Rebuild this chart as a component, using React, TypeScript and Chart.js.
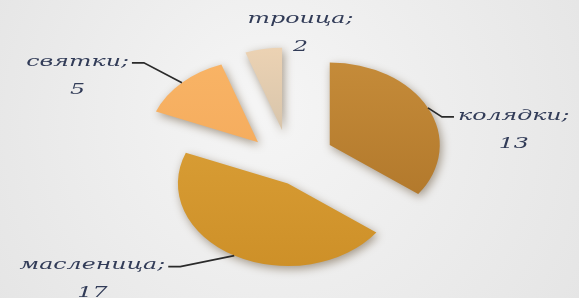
import React, { useEffect, useRef } from "react";
import { Chart, registerables } from "chart.js";

Chart.register(...registerables);

const categories = ["колядки", "масленица", "святки", "троица"];
const values = [13, 17, 5, 2];
// explosion distance of each slice (pixels) and its tilt from the bisector (degrees)
const explode = [35, 34, 49, 44];
const explodeTilt = [-8, -6.5, -17.5, -15.7];
const topColors = ["#c98f3c", "#dea43c", "#fab668", "#f3d7b6"];
const bottomColors = ["#aa7126", "#cb8d25", "#f0a455", "#bdb3a0"];

// label layout (offset of the label anchor from the slice's outer edge point)
const labelDx = [26, -66, -50, 37];
const labelDy = [9, 11, -20, -29];
const labelAlign: CanvasTextAlign[] = ["left", "right", "right", "center"];
const labelLeader = [true, true, true, false];

const Y_SCALE = 0.75;
const TEXT_STRETCH = 1.58;
const FONT = "italic 15px 'DejaVu Serif'";

function explodeVec(arc: any, i: number) {
  const h = (arc.startAngle + arc.endAngle) / 2 + (explodeTilt[i] * Math.PI) / 180;
  return { dx: Math.cos(h) * explode[i], dy: Math.sin(h) * explode[i] };
}

function slicePos(chart: any, i: number) {
  const arc: any = chart.getDatasetMeta(0).data[i];
  const { x, y, startAngle, endAngle, outerRadius } = arc.getProps(
    ["x", "y", "startAngle", "endAngle", "outerRadius"],
    true
  );
  const h = (startAngle + endAngle) / 2;
  const { dx, dy } = explodeVec(arc, i);
  const ex = x + dx + Math.cos(h) * outerRadius;
  const eyRaw = y + dy + Math.sin(h) * outerRadius;
  const ey = y + (eyRaw - y) * Y_SCALE;
  return { ex, ey };
}

const bgPlugin = {
  id: "bg",
  beforeDraw(chart: any) {
    const { ctx, width, height } = chart;
    ctx.save();
    const g = ctx.createRadialGradient(width * 0.45, height * 0.35, 10, width * 0.5, height * 0.45, width * 0.62);
    g.addColorStop(0, "#f5f5f5");
    g.addColorStop(1, "#e4e4e4");
    ctx.fillStyle = g;
    ctx.fillRect(0, 0, width, height);
    ctx.restore();
  },
};

const pieDrawPlugin = {
  id: "explodedPie",
  beforeDatasetsDraw(chart: any) {
    const meta = chart.getDatasetMeta(0);
    const arc0: any = meta.data[0];
    const ctx = chart.ctx;
    ctx.save();
    ctx.translate(arc0.x, arc0.y);
    ctx.scale(1, Y_SCALE);
    ctx.translate(-arc0.x, -arc0.y);
    ctx.shadowColor = "rgba(70,45,10,0.45)";
    ctx.shadowBlur = 10;
    ctx.shadowOffsetX = 2;
    ctx.shadowOffsetY = 3;
    meta.data.forEach((arc: any, i: number) => {
      const { dx, dy } = explodeVec(arc, i);
      ctx.save();
      ctx.translate(dx, dy);
      arc.draw(ctx, chart.chartArea);
      ctx.restore();
    });
    ctx.restore();
    return false;
  },
};

const labelPlugin = {
  id: "labels",
  afterDraw(chart: any) {
    const ctx = chart.ctx;
    ctx.save();
    ctx.font = FONT;
    ctx.fillStyle = "#323c58";
    ctx.strokeStyle = "#2a2a2a";
    ctx.lineWidth = 1.7;
    ctx.textBaseline = "middle";
    categories.forEach((name, i) => {
      const { ex, ey } = slicePos(chart, i);
      const ax = ex + labelDx[i];
      const ay = ey + labelDy[i];
      if (labelLeader[i]) {
        ctx.beginPath();
        ctx.moveTo(ex, ey);
        const dir = labelDx[i] > 0 ? 1 : -1;
        ctx.lineTo(ax - dir * 12, ay);
        ctx.lineTo(ax, ay);
        ctx.stroke();
      }
      const text = name + ";";
      const w = ctx.measureText(text).width * TEXT_STRETCH;
      let tx = ax;
      let centerX = ax;
      if (labelAlign[i] === "left") {
        tx = ax + 4;
        centerX = tx + w / 2;
      } else if (labelAlign[i] === "right") {
        tx = ax - 3;
        centerX = tx - w / 2;
      }
      const ty = ay - 1;
      ctx.save();
      ctx.translate(tx, ty);
      ctx.scale(TEXT_STRETCH, 1);
      ctx.textAlign = labelAlign[i];
      ctx.fillText(text, 0, 0);
      ctx.restore();
      ctx.save();
      ctx.translate(centerX, ty + 28);
      ctx.scale(TEXT_STRETCH, 1);
      ctx.textAlign = "center";
      ctx.fillText(String(values[i]), 0, 0);
      ctx.restore();
    });
    ctx.restore();
  },
};

export default function App() {
  const ref = useRef<HTMLCanvasElement | null>(null);
  useEffect(() => {
    if (!ref.current) return;
    const chart = new Chart(ref.current, {
      type: "pie",
      data: {
        labels: categories,
        datasets: [
          {
            data: values,
            radius: 110,
            offset: 0,
            borderWidth: 0,
            hoverOffset: 0,
            backgroundColor: (c: any) => {
              const i = c.dataIndex;
              const chart = c.chart;
              const area = chart.chartArea;
              if (!area) return topColors[i];
              const cy = (area.top + area.bottom) / 2;
              const g = chart.ctx.createLinearGradient(0, cy - 150, 0, cy + 150);
              g.addColorStop(0, topColors[i]);
              g.addColorStop(1, bottomColors[i]);
              return g;
            },
          } as any,
        ],
      },
      options: {
        responsive: false,
        animation: false,
        radius: 110,
        layout: { padding: { left: 23, top: 22, right: 0, bottom: 0 } },
        plugins: { legend: { display: false }, tooltip: { enabled: false } },
        events: [],
      } as any,
      plugins: [bgPlugin, pieDrawPlugin, labelPlugin],
    });
    return () => chart.destroy();
  }, []);
  return (
    <div style={{ position: "fixed", left: 0, top: 0, width: 579, height: 298 }}>
      <canvas ref={ref} width={579} height={298} style={{ width: 579, height: 298, display: "block" }} />
    </div>
  );
}
